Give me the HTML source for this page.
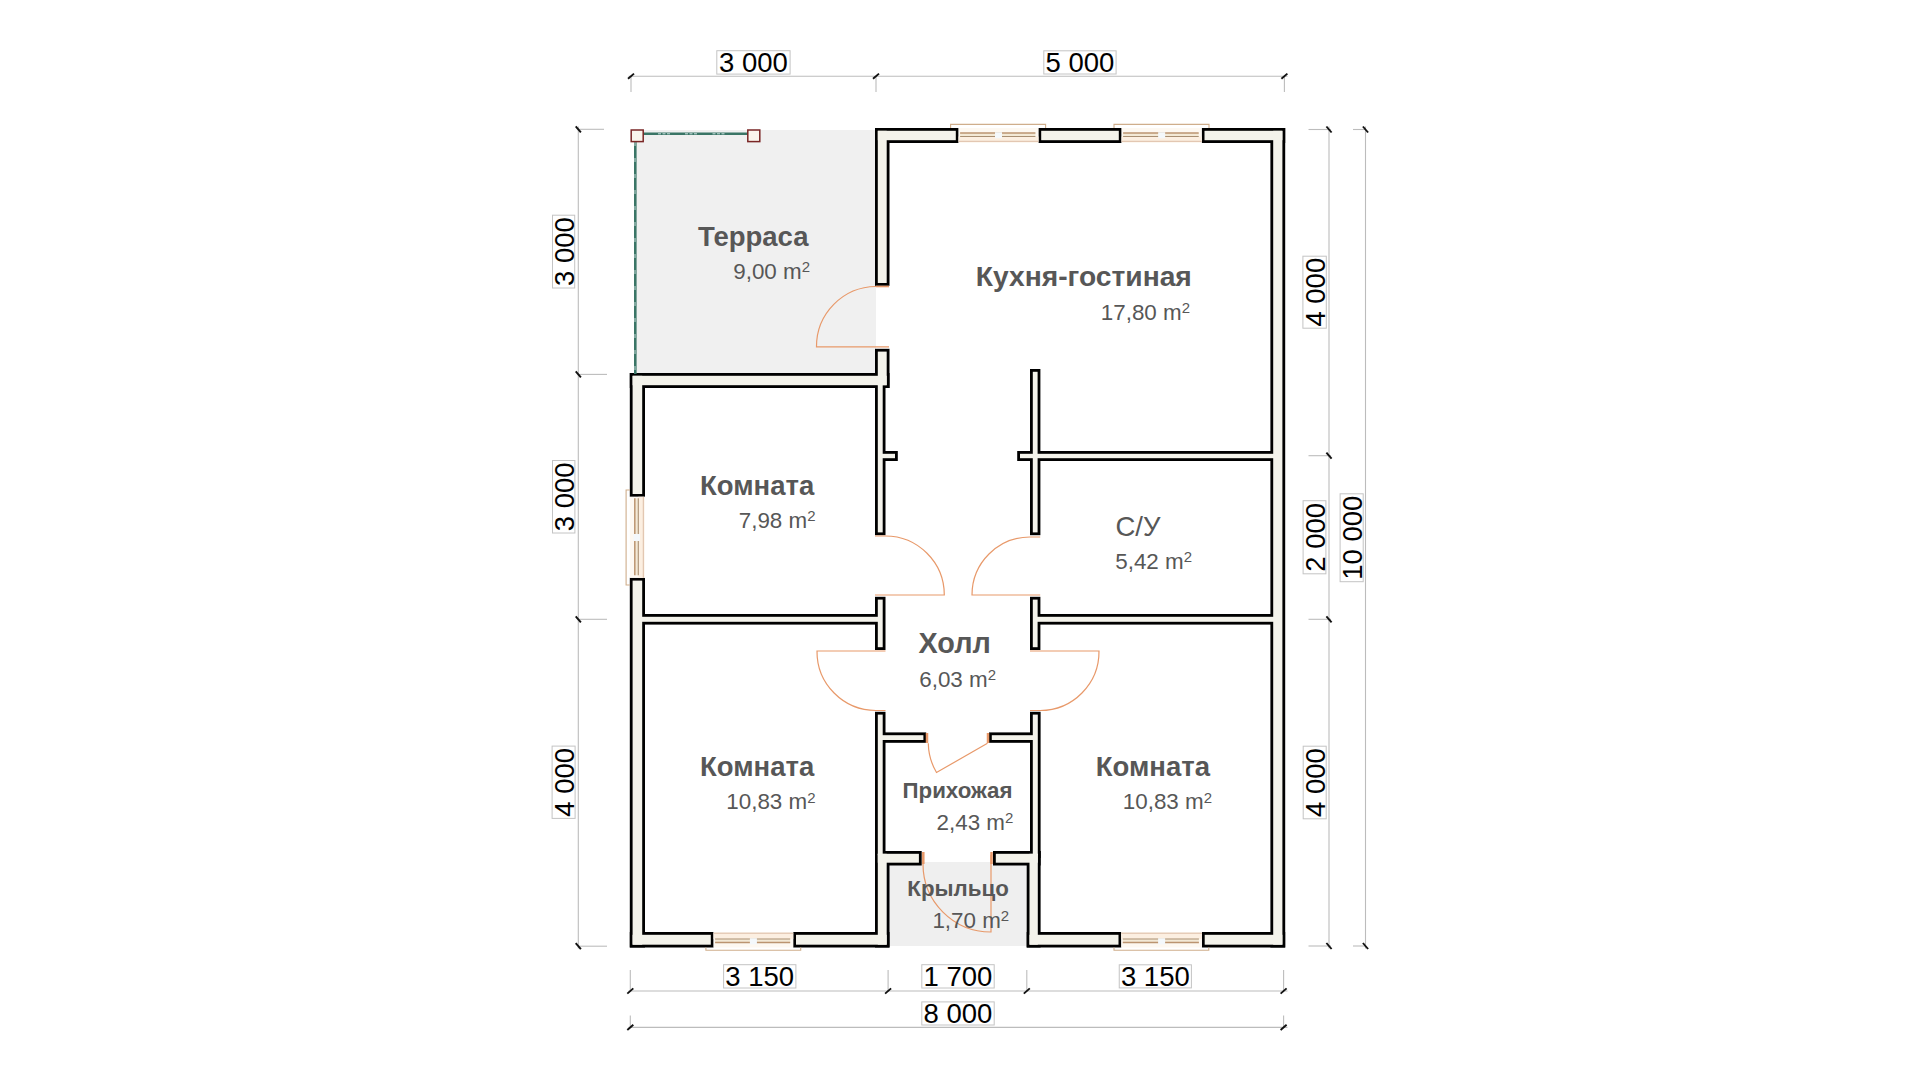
<!DOCTYPE html>
<html><head><meta charset="utf-8"><title>План дома</title>
<style>
html,body{margin:0;padding:0;background:#fff;width:1920px;height:1080px;overflow:hidden}
svg{display:block}
text{font-family:"Liberation Sans",sans-serif}
.d{font-size:27.5px;fill:#000}
.b{font-size:27.5px;font-weight:bold;fill:#575757}
.bk{font-size:28.2px;font-weight:bold;fill:#575757}
.bh{font-size:28.8px;font-weight:bold;fill:#575757}
.bs{font-size:22.3px;font-weight:bold;fill:#575757}
.r{font-size:27.5px;fill:#575757}
.a{font-size:22.4px;fill:#575757}
.s{font-size:15px}
</style></head>
<body>
<svg width="1920" height="1080" viewBox="0 0 1920 1080">
<rect width="1920" height="1080" fill="#fff"/>
<rect x="635" y="130" width="241" height="246" fill="#f0f0f0"/>
<rect x="886" y="862" width="143" height="84" fill="#efefef"/>
<rect x="875.00" y="128.00" width="83.60" height="15.00" fill="#000"/>
<rect x="1038.40" y="128.00" width="83.20" height="15.00" fill="#000"/>
<rect x="1201.70" y="128.00" width="83.50" height="15.00" fill="#000"/>
<rect x="1270.40" y="128.00" width="14.80" height="819.50" fill="#000"/>
<rect x="629.80" y="932.00" width="83.80" height="15.50" fill="#000"/>
<rect x="793.20" y="932.00" width="96.30" height="15.50" fill="#000"/>
<rect x="1026.70" y="932.00" width="94.60" height="15.50" fill="#000"/>
<rect x="1201.90" y="932.00" width="83.30" height="15.50" fill="#000"/>
<rect x="629.80" y="373.00" width="15.20" height="123.80" fill="#000"/>
<rect x="629.80" y="577.80" width="15.20" height="369.70" fill="#000"/>
<rect x="629.80" y="373.00" width="259.70" height="15.00" fill="#000"/>
<rect x="875.00" y="128.00" width="14.50" height="157.80" fill="#000"/>
<rect x="875.00" y="348.80" width="14.50" height="39.20" fill="#000"/>
<rect x="875.00" y="851.00" width="46.70" height="14.50" fill="#000"/>
<rect x="875.00" y="851.00" width="14.50" height="96.50" fill="#000"/>
<rect x="993.00" y="851.00" width="47.60" height="14.50" fill="#000"/>
<rect x="1026.70" y="851.00" width="13.90" height="96.50" fill="#000"/>
<rect x="875.00" y="380.00" width="10.50" height="155.20" fill="#000"/>
<rect x="877.00" y="451.00" width="20.80" height="10.00" fill="#000"/>
<rect x="1030.00" y="369.00" width="10.40" height="166.20" fill="#000"/>
<rect x="1017.20" y="451.00" width="260.80" height="10.00" fill="#000"/>
<rect x="635.00" y="614.00" width="247.00" height="10.60" fill="#000"/>
<rect x="875.00" y="596.80" width="10.50" height="53.20" fill="#000"/>
<rect x="1030.00" y="596.80" width="10.40" height="53.20" fill="#000"/>
<rect x="1032.00" y="614.00" width="246.00" height="10.60" fill="#000"/>
<rect x="875.00" y="711.80" width="10.50" height="146.20" fill="#000"/>
<rect x="1030.00" y="711.80" width="10.60" height="146.20" fill="#000"/>
<rect x="877.00" y="732.40" width="49.20" height="10.40" fill="#000"/>
<rect x="989.00" y="732.40" width="49.00" height="10.40" fill="#000"/>
<rect x="877.80" y="130.80" width="78.00" height="9.40" fill="#f4f3eb"/>
<rect x="1041.20" y="130.80" width="77.60" height="9.40" fill="#f4f3eb"/>
<rect x="1204.50" y="130.80" width="77.90" height="9.40" fill="#f4f3eb"/>
<rect x="1273.20" y="130.80" width="9.20" height="813.90" fill="#f4f3eb"/>
<rect x="632.60" y="934.80" width="78.20" height="9.90" fill="#f4f3eb"/>
<rect x="796.00" y="934.80" width="90.70" height="9.90" fill="#f4f3eb"/>
<rect x="1029.50" y="934.80" width="89.00" height="9.90" fill="#f4f3eb"/>
<rect x="1204.70" y="934.80" width="77.70" height="9.90" fill="#f4f3eb"/>
<rect x="632.60" y="375.80" width="9.60" height="118.20" fill="#f4f3eb"/>
<rect x="632.60" y="580.60" width="9.60" height="364.10" fill="#f4f3eb"/>
<rect x="632.60" y="375.80" width="254.10" height="9.40" fill="#f4f3eb"/>
<rect x="877.80" y="130.80" width="8.90" height="152.20" fill="#f4f3eb"/>
<rect x="877.80" y="351.60" width="8.90" height="33.60" fill="#f4f3eb"/>
<rect x="877.80" y="853.80" width="41.10" height="8.90" fill="#f4f3eb"/>
<rect x="877.80" y="853.80" width="8.90" height="90.90" fill="#f4f3eb"/>
<rect x="995.80" y="853.80" width="42.00" height="8.90" fill="#f4f3eb"/>
<rect x="1029.50" y="853.80" width="8.30" height="90.90" fill="#f4f3eb"/>
<rect x="877.80" y="382.80" width="4.90" height="149.60" fill="#f4f3eb"/>
<rect x="879.80" y="453.80" width="15.20" height="4.40" fill="#f4f3eb"/>
<rect x="1032.80" y="371.80" width="4.80" height="160.60" fill="#f4f3eb"/>
<rect x="1020.00" y="453.80" width="255.20" height="4.40" fill="#f4f3eb"/>
<rect x="637.80" y="616.80" width="241.40" height="5.00" fill="#f4f3eb"/>
<rect x="877.80" y="599.60" width="4.90" height="47.60" fill="#f4f3eb"/>
<rect x="1032.80" y="599.60" width="4.80" height="47.60" fill="#f4f3eb"/>
<rect x="1034.80" y="616.80" width="240.40" height="5.00" fill="#f4f3eb"/>
<rect x="877.80" y="714.60" width="4.90" height="140.60" fill="#f4f3eb"/>
<rect x="1032.80" y="714.60" width="5.00" height="140.60" fill="#f4f3eb"/>
<rect x="879.80" y="735.20" width="43.60" height="4.80" fill="#f4f3eb"/>
<rect x="991.80" y="735.20" width="43.40" height="4.80" fill="#f4f3eb"/>
<rect x="958.6" y="128" width="79.80000000000007" height="15" fill="#fdf8f1"/>
<rect x="958.6" y="136.5" width="79.80000000000007" height="4.800000000000011" fill="#fcefe1"/>
<rect x="960.1" y="133.0" width="75.30000000000007" height="3.5" fill="#f3e9d6"/>
<path d="M950.6,128 V124.4 H1045.6 V128" fill="none" stroke="#cfae8c" stroke-width="1.1"/>
<line x1="958.6" y1="141.3" x2="1038.4" y2="141.3" stroke="#dcbca4" stroke-width="1"/>
<line x1="960.1" y1="133.00" x2="1035.4" y2="133.00" stroke="#bb9470" stroke-width="1.5"/>
<line x1="960.1" y1="136.50" x2="1035.4" y2="136.50" stroke="#a98f72" stroke-width="1.1"/>
<rect x="995.0" y="132.2" width="7" height="6.1" fill="#f4f8fb"/>
<rect x="1121.6" y="128" width="80.10000000000014" height="15" fill="#fdf8f1"/>
<rect x="1121.6" y="136.5" width="80.10000000000014" height="4.800000000000011" fill="#fcefe1"/>
<rect x="1123.1" y="133.0" width="75.60000000000014" height="3.5" fill="#f3e9d6"/>
<path d="M1114,128 V124.4 H1209 V128" fill="none" stroke="#cfae8c" stroke-width="1.1"/>
<line x1="1121.6" y1="141.3" x2="1201.7" y2="141.3" stroke="#dcbca4" stroke-width="1"/>
<line x1="1123.1" y1="133.00" x2="1198.7" y2="133.00" stroke="#bb9470" stroke-width="1.5"/>
<line x1="1123.1" y1="136.50" x2="1198.7" y2="136.50" stroke="#a98f72" stroke-width="1.1"/>
<rect x="1158.15" y="132.2" width="7" height="6.1" fill="#f4f8fb"/>
<rect x="713.6" y="932" width="79.60000000000002" height="15.5" fill="#fdf8f1"/>
<rect x="713.6" y="933.2" width="79.60000000000002" height="5.7999999999999545" fill="#fcefe1"/>
<rect x="715.1" y="939.0" width="75.10000000000002" height="3.5" fill="#f3e9d6"/>
<path d="M705.9,947.5 V950.3 H800.7 V947.5" fill="none" stroke="#cfae8c" stroke-width="1.1"/>
<line x1="713.6" y1="933.2" x2="793.2" y2="933.2" stroke="#dcbca4" stroke-width="1"/>
<line x1="715.1" y1="942.50" x2="790.2" y2="942.50" stroke="#bb9470" stroke-width="1.5"/>
<line x1="715.1" y1="939.00" x2="790.2" y2="939.00" stroke="#a98f72" stroke-width="1.1"/>
<rect x="749.9000000000001" y="938.2" width="7" height="6.1" fill="#f4f8fb"/>
<rect x="1121.3" y="932" width="80.60000000000014" height="15.5" fill="#fdf8f1"/>
<rect x="1121.3" y="933.2" width="80.60000000000014" height="5.7999999999999545" fill="#fcefe1"/>
<rect x="1122.8" y="939.0" width="76.10000000000014" height="3.5" fill="#f3e9d6"/>
<path d="M1114,947.5 V950.3 H1208.8 V947.5" fill="none" stroke="#cfae8c" stroke-width="1.1"/>
<line x1="1121.3" y1="933.2" x2="1201.9" y2="933.2" stroke="#dcbca4" stroke-width="1"/>
<line x1="1122.8" y1="942.50" x2="1198.9" y2="942.50" stroke="#bb9470" stroke-width="1.5"/>
<line x1="1122.8" y1="939.00" x2="1198.9" y2="939.00" stroke="#a98f72" stroke-width="1.1"/>
<rect x="1158.1" y="938.2" width="7" height="6.1" fill="#f4f8fb"/>
<rect x="629.8" y="496.8" width="15.2" height="81" fill="#fdf8f1"/>
<rect x="638.3" y="496.8" width="5" height="81" fill="#fcefe1"/>
<rect x="634.8" y="498.3" width="3.5" height="77" fill="#f3e9d6"/>
<path d="M630,490 H626.1 V585 H630" fill="none" stroke="#cfae8c" stroke-width="1.1"/>
<line x1="643.3" y1="496.8" x2="643.3" y2="577.8" stroke="#dcbca4" stroke-width="1"/>
<line x1="634.8" y1="498.3" x2="634.8" y2="575.3" stroke="#bb9470" stroke-width="1.5"/>
<line x1="638.3" y1="498.3" x2="638.3" y2="575.3" stroke="#a98f72" stroke-width="1.1"/>
<rect x="633.5" y="534" width="6.5" height="7" fill="#f4f8fb"/>
<path d="M876,286.5 A60,60 0 0 0 816.5,346.8 H889" fill="none" stroke="#e8996a" stroke-width="1.2"/>
<path d="M876,286.5 H889" fill="none" stroke="#e8996a" stroke-width="1.6"/>
<path d="M875,595 H944.3 A59,59 0 0 0 885.3,536 H875" fill="none" stroke="#e8996a" stroke-width="1.2"/>
<path d="M1040.2,595 H972 A58,58 0 0 1 1030,537 H1040.2" fill="none" stroke="#e8996a" stroke-width="1.2"/>
<path d="M885.5,651 H817 A59,59 0 0 0 876,710.5 H885.5" fill="none" stroke="#e8996a" stroke-width="1.2"/>
<path d="M1030,651 H1099 A59,59 0 0 1 1040.2,710.5 H1030" fill="none" stroke="#e8996a" stroke-width="1.2"/>
<path d="M987.5,743.3 L936.5,772.5 A59,59 0 0 1 928.3,743.3" fill="none" stroke="#e8996a" stroke-width="1.2"/>
<path d="M927,733 V743" fill="none" stroke="#e8996a" stroke-width="2.5"/>
<path d="M988,733 V743" fill="none" stroke="#e8996a" stroke-width="2.5"/>
<path d="M991,855 V932 A68,68 0 0 1 923,864 V855" fill="none" stroke="#e8996a" stroke-width="1.2"/>
<path d="M923.3,852 V864" fill="none" stroke="#e8996a" stroke-width="2.5"/>
<path d="M991.5,852 V864" fill="none" stroke="#e8996a" stroke-width="2.5"/>
<line x1="643" y1="133.8" x2="748" y2="133.8" stroke="#3a7566" stroke-width="2.6"/>
<line x1="658" y1="133.8" x2="670" y2="133.8" stroke="#d8ecec" stroke-width="0.9" stroke-dasharray="3,1.5"/>
<line x1="685" y1="133.8" x2="697.5" y2="133.8" stroke="#d8ecec" stroke-width="0.9" stroke-dasharray="3,1.5"/>
<line x1="712.5" y1="133.8" x2="726" y2="133.8" stroke="#d8ecec" stroke-width="0.9" stroke-dasharray="3,1.5"/>
<line x1="635.3" y1="142" x2="635.3" y2="374" stroke="#3a7566" stroke-width="2.6"/>
<line x1="635" y1="142" x2="635" y2="374" stroke="#e8f4f4" stroke-width="0.8" stroke-dasharray="4,12"/>
<rect x="631.2" y="130" width="12" height="11.6" fill="#faf4ec" stroke="#7a2626" stroke-width="1.5"/>
<rect x="747.8" y="130" width="12" height="11.6" fill="#faf4ec" stroke="#7a2626" stroke-width="1.5"/>
<line x1="628.5" y1="76.2" x2="1287.5" y2="76.2" stroke="#bcbcbc" stroke-width="1.1"/>
<line x1="631" y1="76.2" x2="631" y2="92" stroke="#bcbcbc" stroke-width="1.1"/>
<line x1="628.0" y1="78.8" x2="634.0" y2="73.60000000000001" stroke="#111" stroke-width="1.9"/>
<line x1="876" y1="76.2" x2="876" y2="92" stroke="#bcbcbc" stroke-width="1.1"/>
<line x1="873.0" y1="78.8" x2="879.0" y2="73.60000000000001" stroke="#111" stroke-width="1.9"/>
<line x1="1284.4" y1="76.2" x2="1284.4" y2="92" stroke="#bcbcbc" stroke-width="1.1"/>
<line x1="1281.4" y1="78.8" x2="1287.4" y2="73.60000000000001" stroke="#111" stroke-width="1.9"/>
<line x1="628.5" y1="991" x2="1287.5" y2="991" stroke="#bcbcbc" stroke-width="1.1"/>
<line x1="630.3" y1="970" x2="630.3" y2="991" stroke="#bcbcbc" stroke-width="1.1"/>
<line x1="627.3" y1="993.6" x2="633.3" y2="988.4" stroke="#111" stroke-width="1.9"/>
<line x1="888.1" y1="970" x2="888.1" y2="991" stroke="#bcbcbc" stroke-width="1.1"/>
<line x1="885.1" y1="993.6" x2="891.1" y2="988.4" stroke="#111" stroke-width="1.9"/>
<line x1="1026.8" y1="970" x2="1026.8" y2="991" stroke="#bcbcbc" stroke-width="1.1"/>
<line x1="1023.8" y1="993.6" x2="1029.8" y2="988.4" stroke="#111" stroke-width="1.9"/>
<line x1="1283.6" y1="970" x2="1283.6" y2="991" stroke="#bcbcbc" stroke-width="1.1"/>
<line x1="1280.6" y1="993.6" x2="1286.6" y2="988.4" stroke="#111" stroke-width="1.9"/>
<line x1="628.5" y1="1027.4" x2="1287.5" y2="1027.4" stroke="#bcbcbc" stroke-width="1.1"/>
<line x1="630.3" y1="1015.5" x2="630.3" y2="1027.4" stroke="#bcbcbc" stroke-width="1.1"/>
<line x1="627.3" y1="1030.0" x2="633.3" y2="1024.8000000000002" stroke="#111" stroke-width="1.9"/>
<line x1="1283.6" y1="1015.5" x2="1283.6" y2="1027.4" stroke="#bcbcbc" stroke-width="1.1"/>
<line x1="1280.6" y1="1030.0" x2="1286.6" y2="1024.8000000000002" stroke="#111" stroke-width="1.9"/>
<line x1="578.3" y1="126.5" x2="578.3" y2="948.5" stroke="#bcbcbc" stroke-width="1.1"/>
<line x1="578.3" y1="129.3" x2="604" y2="129.3" stroke="#bcbcbc" stroke-width="1.1"/>
<line x1="575.6999999999999" y1="126.30000000000001" x2="580.9" y2="132.3" stroke="#111" stroke-width="1.9"/>
<line x1="578.3" y1="374.4" x2="607" y2="374.4" stroke="#bcbcbc" stroke-width="1.1"/>
<line x1="575.6999999999999" y1="371.4" x2="580.9" y2="377.4" stroke="#111" stroke-width="1.9"/>
<line x1="578.3" y1="619.3" x2="607" y2="619.3" stroke="#bcbcbc" stroke-width="1.1"/>
<line x1="575.6999999999999" y1="616.3" x2="580.9" y2="622.3" stroke="#111" stroke-width="1.9"/>
<line x1="578.3" y1="946.2" x2="607" y2="946.2" stroke="#bcbcbc" stroke-width="1.1"/>
<line x1="575.6999999999999" y1="943.2" x2="580.9" y2="949.2" stroke="#111" stroke-width="1.9"/>
<line x1="1329" y1="126.5" x2="1329" y2="948.5" stroke="#bcbcbc" stroke-width="1.1"/>
<line x1="1308.5" y1="129.5" x2="1331" y2="129.5" stroke="#bcbcbc" stroke-width="1.1"/>
<line x1="1326.4" y1="126.5" x2="1331.6" y2="132.5" stroke="#111" stroke-width="1.9"/>
<line x1="1308.5" y1="455.7" x2="1331" y2="455.7" stroke="#bcbcbc" stroke-width="1.1"/>
<line x1="1326.4" y1="452.7" x2="1331.6" y2="458.7" stroke="#111" stroke-width="1.9"/>
<line x1="1308.5" y1="619.3" x2="1331" y2="619.3" stroke="#bcbcbc" stroke-width="1.1"/>
<line x1="1326.4" y1="616.3" x2="1331.6" y2="622.3" stroke="#111" stroke-width="1.9"/>
<line x1="1308.5" y1="946" x2="1331" y2="946" stroke="#bcbcbc" stroke-width="1.1"/>
<line x1="1326.4" y1="943.0" x2="1331.6" y2="949.0" stroke="#111" stroke-width="1.9"/>
<line x1="1365.5" y1="126.5" x2="1365.5" y2="948.5" stroke="#bcbcbc" stroke-width="1.1"/>
<line x1="1353" y1="129.5" x2="1365.5" y2="129.5" stroke="#bcbcbc" stroke-width="1.1"/>
<line x1="1362.9" y1="126.5" x2="1368.1" y2="132.5" stroke="#111" stroke-width="1.9"/>
<line x1="1353" y1="946" x2="1365.5" y2="946" stroke="#bcbcbc" stroke-width="1.1"/>
<line x1="1362.9" y1="943.0" x2="1368.1" y2="949.0" stroke="#111" stroke-width="1.9"/>
<rect x="716.8" y="50.7" width="73.30000000000007" height="23.39999999999999" fill="#fff" stroke="#c4c4c4" stroke-width="1"/>
<text x="753.45" y="72.0" text-anchor="middle" class="d">3 000</text>
<rect x="1043.8" y="50.8" width="72.29999999999995" height="23.200000000000003" fill="#fff" stroke="#c4c4c4" stroke-width="1"/>
<text x="1079.9499999999998" y="71.9" text-anchor="middle" class="d">5 000</text>
<rect x="723.6" y="964.7" width="72.29999999999995" height="23.299999999999955" fill="#fff" stroke="#c4c4c4" stroke-width="1"/>
<text x="759.75" y="985.9" text-anchor="middle" class="d">3 150</text>
<rect x="921.8" y="964.7" width="72.40000000000009" height="23.299999999999955" fill="#fff" stroke="#c4c4c4" stroke-width="1"/>
<text x="958.0" y="985.9" text-anchor="middle" class="d">1 700</text>
<rect x="1119.25" y="964.8" width="72.15000000000009" height="23.100000000000023" fill="#fff" stroke="#c4c4c4" stroke-width="1"/>
<text x="1155.325" y="985.8" text-anchor="middle" class="d">3 150</text>
<rect x="921.8" y="1001.9" width="72.40000000000009" height="23.100000000000023" fill="#fff" stroke="#c4c4c4" stroke-width="1"/>
<text x="958.0" y="1022.9" text-anchor="middle" class="d">8 000</text>
<rect x="552.5" y="215.2" width="22.200000000000045" height="72.80000000000001" fill="#fff" stroke="#c4c4c4" stroke-width="1"/>
<text x="573.6" y="251.6" text-anchor="middle" class="d" transform="rotate(-90 573.6 251.6)">3 000</text>
<rect x="552.5" y="460.5" width="22.399999999999977" height="72.5" fill="#fff" stroke="#c4c4c4" stroke-width="1"/>
<text x="573.8" y="496.75" text-anchor="middle" class="d" transform="rotate(-90 573.8 496.75)">3 000</text>
<rect x="552.1" y="746.1" width="23.0" height="72.29999999999995" fill="#fff" stroke="#c4c4c4" stroke-width="1"/>
<text x="574.0" y="782.25" text-anchor="middle" class="d" transform="rotate(-90 574.0 782.25)">4 000</text>
<rect x="1302.9" y="256.2" width="23.399999999999864" height="72.0" fill="#fff" stroke="#c4c4c4" stroke-width="1"/>
<text x="1325.2" y="292.2" text-anchor="middle" class="d" transform="rotate(-90 1325.2 292.2)">4 000</text>
<rect x="1303.1" y="500.7" width="22.800000000000182" height="73.09999999999997" fill="#fff" stroke="#c4c4c4" stroke-width="1"/>
<text x="1324.8000000000002" y="537.25" text-anchor="middle" class="d" transform="rotate(-90 1324.8000000000002 537.25)">2 000</text>
<rect x="1303.2" y="746.2" width="23.0" height="72.59999999999991" fill="#fff" stroke="#c4c4c4" stroke-width="1"/>
<text x="1325.1000000000001" y="782.5" text-anchor="middle" class="d" transform="rotate(-90 1325.1000000000001 782.5)">4 000</text>
<rect x="1340.1" y="493.8" width="23.100000000000136" height="87.90000000000003" fill="#fff" stroke="#c4c4c4" stroke-width="1"/>
<text x="1362.1000000000001" y="537.75" text-anchor="middle" class="d" transform="rotate(-90 1362.1000000000001 537.75)">10 000</text>
<text x="808.5" y="245.5" text-anchor="end" class="b">Терраса</text>
<text x="810" y="279" text-anchor="end" class="a">9,00 m<tspan class="s" dy="-6.6">2</tspan></text>
<text x="1191.8" y="286.2" text-anchor="end" class="bk">Кухня-гостиная</text>
<text x="1190" y="319.5" text-anchor="end" class="a">17,80 m<tspan class="s" dy="-6.6">2</tspan></text>
<text x="814.2" y="494.5" text-anchor="end" class="b">Комната</text>
<text x="815.5" y="527.7" text-anchor="end" class="a">7,98 m<tspan class="s" dy="-6.6">2</tspan></text>
<text x="1115.5" y="535.6" text-anchor="start" class="r">С/У</text>
<text x="1192" y="568.5" text-anchor="end" class="a">5,42 m<tspan class="s" dy="-6.6">2</tspan></text>
<text x="918.5" y="653.3" text-anchor="start" class="bh">Холл</text>
<text x="996" y="687" text-anchor="end" class="a">6,03 m<tspan class="s" dy="-6.6">2</tspan></text>
<text x="814.2" y="776" text-anchor="end" class="b">Комната</text>
<text x="815.5" y="809.2" text-anchor="end" class="a">10,83 m<tspan class="s" dy="-6.6">2</tspan></text>
<text x="1210" y="776" text-anchor="end" class="b">Комната</text>
<text x="1212" y="809.2" text-anchor="end" class="a">10,83 m<tspan class="s" dy="-6.6">2</tspan></text>
<text x="1012.5" y="797.8" text-anchor="end" class="bs">Прихожая</text>
<text x="1013.3" y="829.9" text-anchor="end" class="a">2,43 m<tspan class="s" dy="-6.6">2</tspan></text>
<text x="1008.8" y="896" text-anchor="end" class="bs">Крыльцо</text>
<text x="1009.2" y="927.6" text-anchor="end" class="a">1,70 m<tspan class="s" dy="-6.6">2</tspan></text>
</svg>
</body></html>
